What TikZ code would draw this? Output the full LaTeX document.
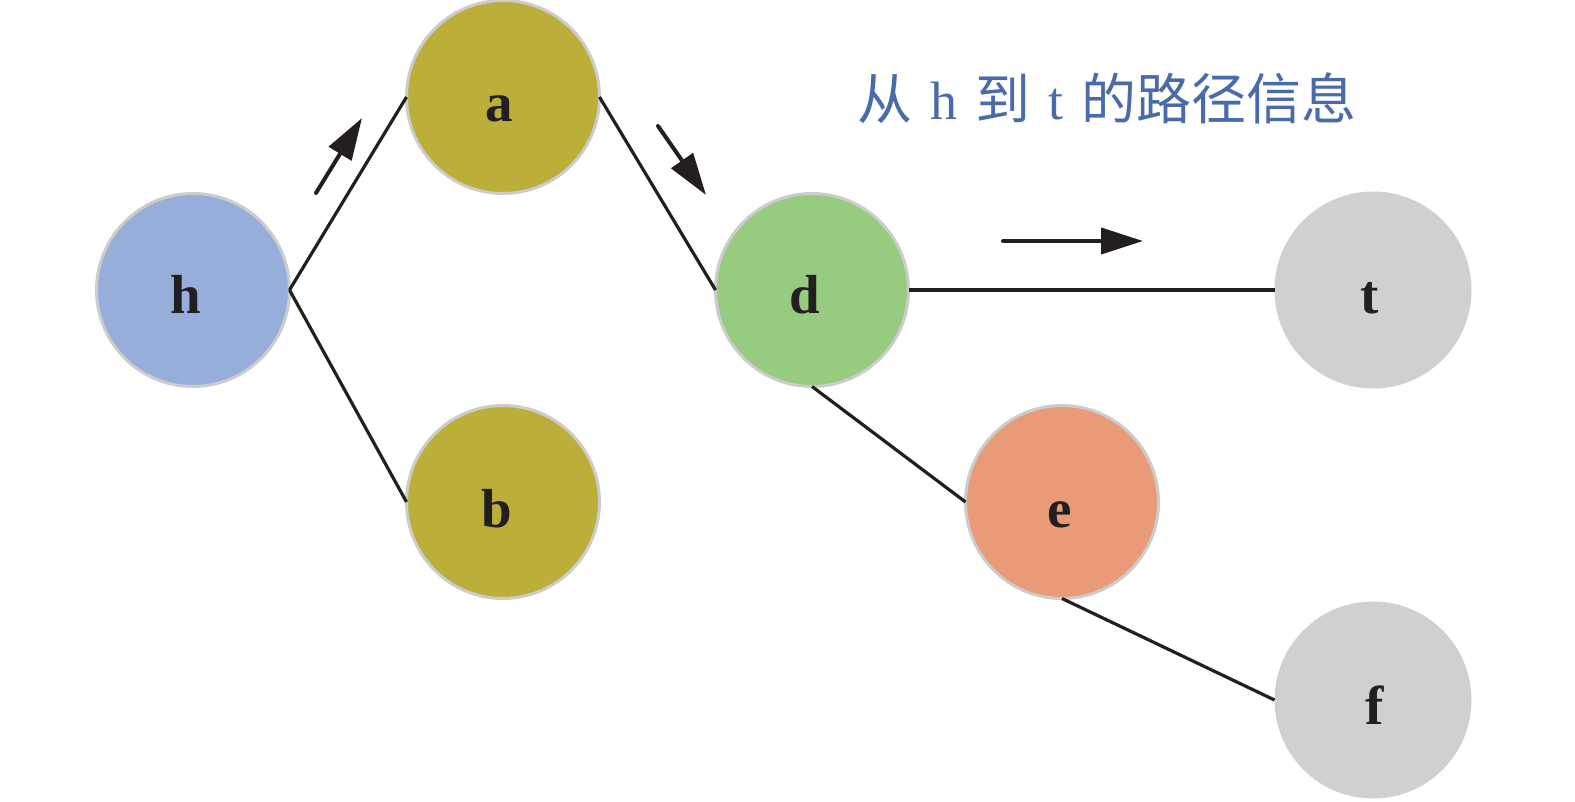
\documentclass[tikz,border=0pt]{standalone}
\usepackage{fontspec}
\setmainfont{Liberation Serif}
\newfontfamily\cjk{Noto Sans CJK SC}
\usetikzlibrary{arrows.meta}
\definecolor{cH}{HTML}{98AEDA}
\definecolor{cA}{HTML}{BBAF3A}
\definecolor{cD}{HTML}{97CC80}
\definecolor{cE}{HTML}{E99A77}
\definecolor{cT}{HTML}{D0D0D0}
\definecolor{cRim}{HTML}{CCCCCC}
\definecolor{cTitle}{HTML}{4A6AAA}
\definecolor{cLine}{HTML}{231F20}
\tikzset{
  vertex/.style={circle, minimum size=193pt, inner sep=0pt, outer sep=0pt, draw=cRim, line width=3pt},
  plain/.style={circle, minimum size=197pt, inner sep=0pt, outer sep=0pt, draw=none},
  lab/.style={font=\fontsize{55pt}{60pt}\selectfont\bfseries, text=cLine, inner sep=0pt, anchor=base},
  edge/.style={draw=cLine, line width=3.2pt},
  flow/.style={draw=cLine, line width=4pt, line cap=round, -{Triangle[length=42pt,width=26pt]}}
}
\begin{document}
\begin{tikzpicture}[x=1pt,y=-1pt]
\useasboundingbox (0,0) rectangle (1575,802);
\node[vertex, fill=cH] (h) at (193,290) {};
\node[vertex, fill=cA] (a) at (503,97) {};
\node[vertex, fill=cA] (b) at (503,502) {};
\node[vertex, fill=cD] (d) at (812,290) {};
\node[vertex, fill=cE] (e) at (1062,502) {};
\node[plain, fill=cT] (t) at (1373,290) {};
\node[plain, fill=cT] (f) at (1373,700) {};
\node[lab] (hl) at (186,314) {h};
\node[lab] (al) at (499,122) {a};
\node[lab] (bl) at (497,527) {b};
\node[lab] (dl) at (805,314) {d};
\node[lab] (el) at (1060,527) {e};
\node[lab] (tl) at (1370,314) {t};
\node[lab] (fl) at (1375,724) {f};
\draw[edge] (h.east) -- (a.west);
\draw[edge] (h.east) -- (b.west);
\draw[edge] (a.east) -- (d.west);
\draw[edge] (d.east) -- (t.west);
\draw[edge] (d.south) -- (e.west);
\draw[edge] (e.south) -- (f.west);
\coordinate (p1) at (316,193);
\coordinate (p2) at (362,118);
\coordinate (q1) at (658,126);
\coordinate (q2) at (706,195);
\coordinate (r1) at (1003,241);
\coordinate (r2) at (1143,241);
\draw[flow] (p1) -- (p2);
\draw[flow] (q1) -- (q2);
\draw[flow] (r1) -- (r2);
\node[text=cTitle, inner sep=0pt, font=\fontsize{54pt}{60pt}\selectfont] (title) at (1107,98)
  {{\fontsize{55pt}{60pt}\selectfont\cjk 从}\hspace{18pt}h\hspace{18pt}{\fontsize{55pt}{60pt}\selectfont\cjk 到}\hspace{18pt}t\hspace{18pt}{\fontsize{55pt}{60pt}\selectfont\cjk 的路径信息}};
\end{tikzpicture}
\end{document}
